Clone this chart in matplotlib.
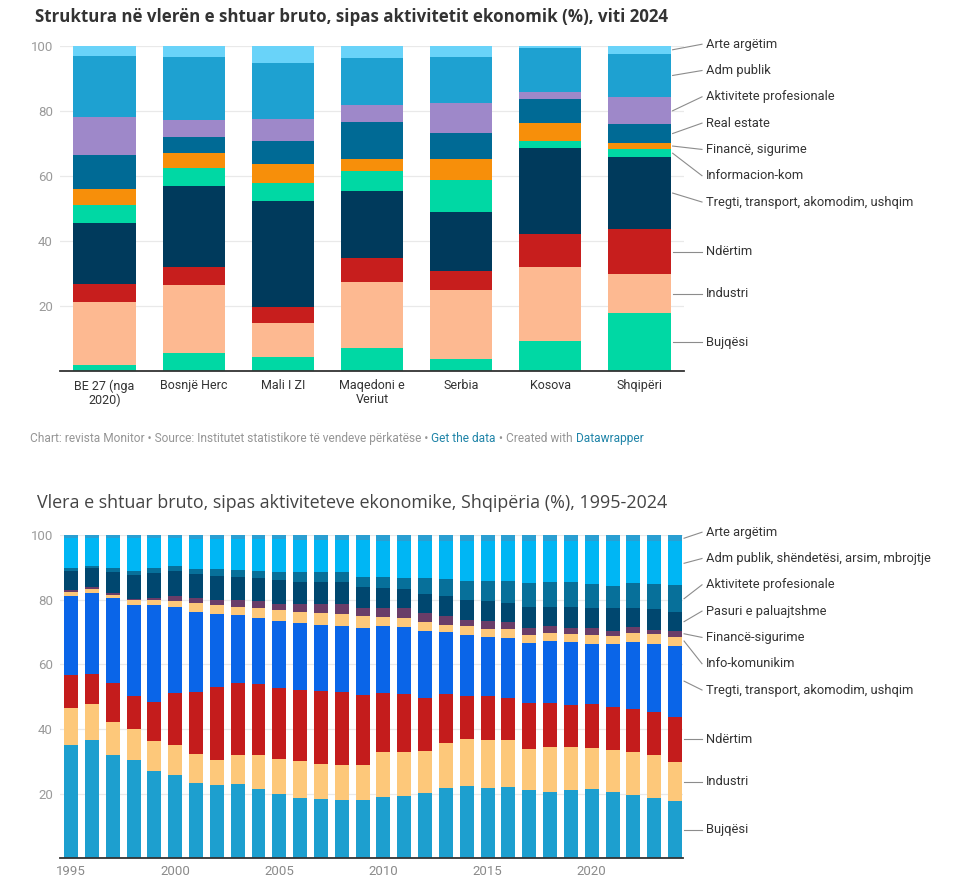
import matplotlib
matplotlib.use("Agg")
import matplotlib.pyplot as plt
import matplotlib.transforms as mtransforms
import numpy as np

# ---- Grafiku 1: struktura e VSHB sipas vendeve, viti 2024 (%) ----
vendet = ["BE 27 (nga\n2020)", "Bosnjë Herc", "Mali I ZI", "Maqedoni e\nVeriut",
          "Serbia", "Kosova", "Shqipëri"]
sektoret_1 = ["Bujqësi", "Industri", "Ndërtim", "Tregti, transport, akomodim, ushqim",
              "Informacion-kom", "Financë, sigurime", "Real estate",
              "Aktivitete profesionale", "Adm publik", "Arte argëtim"]

bujqesi_1 = [1.8, 5.6, 4.4, 7.2, 3.7, 9.1, 17.7]
industri_1 = [19.3, 20.8, 10.5, 20.3, 21.1, 23.0, 12.0]
ndertim_1 = [5.6, 5.7, 4.9, 7.2, 6.0, 10.0, 13.9]
tregti_1 = [18.9, 24.8, 32.4, 20.7, 18.0, 26.4, 22.2]
info_1 = [5.4, 5.6, 5.7, 6.0, 10.0, 2.3, 2.3]
finance_1 = [4.8, 4.4, 5.6, 3.8, 6.4, 5.3, 2.1]
real_estate_1 = [10.6, 4.9, 7.3, 11.3, 8.1, 7.5, 5.6]
profesionale_1 = [11.8, 5.4, 6.7, 5.3, 9.2, 2.2, 8.4]
adm_1 = [18.7, 19.4, 17.1, 14.4, 14.0, 13.6, 13.3]
arte_1 = [3.1, 3.4, 5.4, 3.8, 3.5, 0.6, 2.5]

ngjyrat_1 = ["#00d8a4", "#fdb991", "#c71e1d", "#003a5c", "#00d8a4",
             "#f78f0a", "#006a95", "#9e88c9", "#1ea1d1", "#69d3f9"]

# ---- Grafiku 2: Shqipëria, 1995-2024 (%) ----
vitet = list(range(1995, 2025))
sektoret_2 = ["Bujqësi", "Industri", "Ndërtim", "Tregti, transport, akomodim, ushqim",
              "Info-komunikim", "Financë-sigurime", "Pasuri e paluajtshme",
              "Aktivitete profesionale", "Adm publik, shëndetësi, arsim, mbrojtje",
              "Arte argëtim"]

bujqesi_2 = [35.1, 36.6, 31.8, 30.5, 27.1, 25.8, 23.4, 22.7, 23.0, 21.3,
             20.0, 18.7, 18.4, 18.0, 18.0, 19.0, 19.4, 20.3, 21.8, 22.4,
             21.6, 22.1, 21.0, 20.6, 21.0, 21.3, 20.6, 19.7, 18.7, 17.6]
industri_2 = [11.4, 11.0, 10.4, 9.4, 9.1, 9.3, 8.8, 7.7, 9.1, 10.5,
              10.7, 11.4, 10.7, 10.8, 10.8, 13.8, 13.5, 12.9, 14.0, 14.5,
              14.9, 14.4, 12.7, 13.7, 13.4, 12.7, 12.9, 13.1, 13.1, 12.1]
ndertim_2 = [10.1, 9.4, 12.1, 10.3, 12.0, 15.9, 19.3, 22.5, 22.2, 22.2,
             21.9, 22.1, 22.8, 22.7, 21.7, 18.4, 18.0, 16.4, 15.1, 13.3,
             13.7, 13.1, 14.2, 13.8, 13.1, 13.8, 13.4, 13.4, 13.4, 14.1]
tregti_2 = [24.5, 25.2, 26.2, 28.3, 30.0, 26.8, 24.7, 22.7, 20.9, 20.4,
            20.9, 20.7, 20.2, 20.3, 20.6, 20.7, 20.6, 20.8, 19.2, 19.0,
            18.4, 18.4, 18.6, 19.2, 19.5, 18.6, 19.3, 20.8, 21.2, 22.0]
info_2 = [1.2, 1.0, 1.0, 1.4, 1.7, 1.8, 2.7, 2.6, 2.6, 3.1,
          3.3, 3.2, 3.7, 3.7, 3.7, 2.6, 2.7, 2.8, 2.1, 2.5,
          2.2, 2.8, 2.6, 2.3, 2.3, 2.7, 2.6, 2.8, 2.9, 2.8]
finance_2 = [0.7, 0.6, 0.5, 0.3, 0.7, 1.6, 1.7, 1.6, 2.1, 2.0,
             1.8, 2.5, 2.8, 3.2, 2.5, 2.8, 3.1, 2.6, 2.6, 2.0,
             2.6, 2.2, 2.2, 2.1, 1.8, 2.0, 1.5, 1.7, 1.3, 1.7]
pasuri_2 = [6.0, 5.9, 6.7, 7.4, 7.8, 7.8, 7.3, 7.5, 7.0, 7.1,
            7.5, 7.0, 6.8, 6.9, 6.5, 6.2, 5.9, 6.0, 6.3, 6.2,
            6.2, 6.1, 6.5, 6.1, 6.5, 6.4, 7.0, 5.8, 6.4, 5.8]
profesionale_2 = [0.9, 0.8, 1.0, 1.4, 1.5, 1.5, 1.6, 2.2, 2.3, 2.4,
                  2.6, 2.9, 3.3, 2.9, 3.3, 3.4, 3.4, 4.8, 5.2, 6.0,
                  6.3, 6.8, 7.5, 7.8, 8.0, 7.4, 6.9, 8.0, 7.9, 8.4]
adm_2 = [9.1, 8.5, 9.3, 10.0, 9.1, 8.5, 9.3, 9.3, 9.6, 9.7,
         10.0, 10.0, 9.8, 10.0, 11.3, 11.3, 11.6, 11.6, 11.9, 12.3,
         12.3, 12.3, 12.9, 12.6, 12.6, 13.3, 14.0, 12.9, 13.3, 13.5]
arte_2 = [1.0, 1.0, 1.0, 1.0, 1.0, 1.0, 1.2, 1.2, 1.2, 1.3,
          1.3, 1.5, 1.5, 1.5, 1.6, 1.8, 1.8, 1.8, 1.8, 1.8,
          1.8, 1.8, 1.8, 1.8, 1.8, 1.8, 1.8, 1.8, 1.8, 2.0]

ngjyrat_2 = ["#1d9fcf", "#fdc87a", "#c41c1c", "#0a65e8", "#fdc87a",
             "#6a3d68", "#00476f", "#07709a", "#00b6f4", "#2a9fd2"]

W, H = 980, 896
FONT = ["Roboto", "DejaVu Sans"]
plt.rcParams["font.family"] = FONT

fig = plt.figure(figsize=(W / 100, H / 100), dpi=100)
fig.patch.set_facecolor("white")


def kutia(x0, y0, x1, y1):
    # koordinata ne piksel (nga lart-majtas) -> fraksion i figures
    return [x0 / W, 1 - y1 / H, (x1 - x0) / W, (y1 - y0) / H]


def shperndaj(qendrat, hapi):
    # etiketat nuk duhet te mbivendosen: bashkohen ne grupe
    grupet = [[c] for c in qendrat]
    ndryshoi = True
    while ndryshoi:
        ndryshoi = False
        fillimet = [np.mean(g) - (len(g) - 1) * hapi / 2 for g in grupet]
        for k in range(len(grupet) - 1):
            fundi = fillimet[k] + (len(grupet[k]) - 1) * hapi
            if fillimet[k + 1] - fundi < hapi:
                grupet[k] = grupet[k] + grupet.pop(k + 1)
                ndryshoi = True
                break
    pos = []
    for g in grupet:
        s = np.mean(g) - (len(g) - 1) * hapi / 2
        pos += [s + i * hapi for i in range(len(g))]
    return pos


def vizato(ax, seri, ngjyrat, emrat, gjeresia):
    x = np.arange(len(seri[0]))
    poshte = np.zeros(len(x))
    for vlerat, ngj in zip(seri, ngjyrat):
        ax.bar(x, vlerat, bottom=poshte, width=gjeresia, color=ngj, linewidth=0, zorder=2)
        poshte = poshte + np.array(vlerat)

    ax.set_ylim(0, 100)
    ax.set_yticks([20, 40, 60, 80, 100])
    ax.yaxis.grid(True, color="#e9e9e9", linewidth=0.9, zorder=0)
    ax.set_axisbelow(True)
    for s in ["top", "right", "left"]:
        ax.spines[s].set_visible(False)
    ax.spines["bottom"].set_color("#333333")
    ax.spines["bottom"].set_linewidth(1.3)
    ax.tick_params(axis="both", length=0)
    ax.tick_params(axis="y", labelsize=9.5, labelcolor="#9a9a9a", pad=5)

    # etiketat djathtas me vija lidhese
    fundi = [s[-1] for s in seri]
    kum = np.cumsum(fundi)
    qendrat = kum - np.array(fundi) / 2
    px_per_njesi = ax.get_position().height * H / 100
    pozicionet = shperndaj(list(qendrat), 26.3 / px_per_njesi)
    tr = mtransforms.blended_transform_factory(fig.transFigure, ax.transData)
    x_bar = fig.transFigure.inverted().transform(
        ax.transData.transform((x[-1] + gjeresia / 2, 0)))[0]
    for emri, qc, qy in zip(emrat, qendrat, pozicionet):
        ax.plot([x_bar + 2 / W, 702 / W], [qc, qy], transform=tr, color="#8c8c8c",
                linewidth=0.8, clip_on=False)
        ax.text(706 / W, qy, emri, transform=tr, va="center", ha="left",
                fontsize=9.3, color="#333333")


# ---- Grafiku 1 ----
fig.text(35 / W, 1 - 17 / H,
         "Struktura në vlerën e shtuar bruto, sipas aktivitetit ekonomik (%), viti 2024",
         fontsize=12.2, fontweight="bold", color="#333333", va="center",
         family=["Open Sans", "DejaVu Sans"])

ax1 = fig.add_axes(kutia(60, 45.7, 684, 371))
seri_1 = [bujqesi_1, industri_1, ndertim_1, tregti_1, info_1, finance_1,
          real_estate_1, profesionale_1, adm_1, arte_1]
ax1.set_xlim(-0.5, len(vendet) - 0.5)
vizato(ax1, seri_1, ngjyrat_1, sektoret_1, 0.7)
ax1.set_xticks(range(len(vendet)))
ax1.set_xticklabels(vendet, fontsize=9, color="#333333", linespacing=1.1)
ax1.tick_params(axis="x", pad=6)

# shenimi poshte grafikut 1
r = fig.canvas.get_renderer()
pjeset = [("Chart: revista Monitor • Source: Institutet statistikore të vendeve përkatëse • ", "#959595"),
          ("Get the data", "#1f84a8"),
          (" • Created with ", "#959595"),
          ("Datawrapper", "#1f84a8")]
x_px = 30
for tekst, ngj in pjeset:
    t = fig.text(x_px / W, 1 - 438 / H, tekst, fontsize=8.6, color=ngj, va="center")
    x_px += t.get_window_extent(renderer=r).width

# ---- Grafiku 2 ----
fig.text(37 / W, 1 - 503 / H,
         "Vlera e shtuar bruto, sipas aktiviteteve ekonomike, Shqipëria (%), 1995-2024",
         fontsize=12.9, color="#444444", va="center",
         family=["Open Sans", "DejaVu Sans"])

ax2 = fig.add_axes(kutia(60, 535, 683, 858.3))
seri_2 = [bujqesi_2, industri_2, ndertim_2, tregti_2, info_2, finance_2,
          pasuri_2, profesionale_2, adm_2, arte_2]
ax2.set_xlim(-0.53, len(vitet) - 0.62)
vizato(ax2, seri_2, ngjyrat_2, sektoret_2, 0.67)
idx = [i for i, v in enumerate(vitet) if v % 5 == 0]
ax2.set_xticks(idx)
ax2.set_xticklabels([str(vitet[i]) for i in idx], fontsize=9.5, color="#8a8a8a")
ax2.tick_params(axis="x", pad=5)

fig.savefig("out.png", dpi=100, facecolor="white")
